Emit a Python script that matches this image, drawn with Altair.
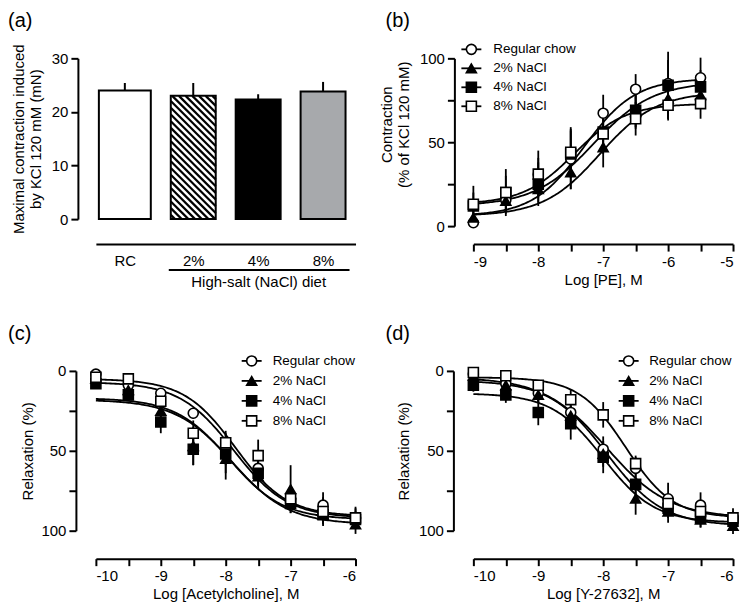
import altair as alt
import numpy as np
import pandas as pd

FONT = "Arial, Liberation Sans, sans-serif"
TICK_FS = 15
TITLE_FS = 15
LEG_FS = 13.5

# ---------------- Panel (a) data ----------------
A_GROUPS = ["RC", "2%", "4%", "8%"]
A_MEAN = [24.0, 23.0, 22.3, 23.8]
A_SEM = [1.4, 2.4, 1.0, 1.8]
A_FILL = ["white", "white", "black", "#a7a9ac"]
A_HATCHED = ["2%"]
A_GROUP_LABEL = "High-salt (NaCl) diet"
A_YTITLE = ["Maximal contraction induced", "by KCl 120 mM (mN)"]

# ---------------- Shared series ----------------
SERIES = ["Regular chow", "2% NaCl", "4% NaCl", "8% NaCl"]
SHAPES = ["circle", "triangle-up", "square", "square"]
FILLS = ["white", "black", "black", "white"]

# ---------------- Panel (b): PE ----------------
B_X = [-9, -8.5, -8, -7.5, -7, -6.5, -6, -5.5]
B_RC = [2, 15.4, 30.7, 40, 67.3, 81.6, 85, 88.4]
B_2 = [5, 15, 22, 32, 47, 68, 76, 78]
B_4 = [12, 20, 25, 43, 56, 69, 84, 83]
B_8 = [13, 20, 31, 44, 55, 64, 72, 73]
B_RC_SEM = [3, 8, 10, 18, 11, 9, 14, 12]
B_2_SEM = [4, 6, 8, 10, 12, 10, 12, 8]
B_4_SEM = [8, 10, 13, 14, 10, 10, 20, 10]
B_8_SEM = [11, 14, 14, 15, 12, 10, 9, 9]
B_BOTTOM = [6, 6, 12, 13]
B_TOP = [88, 80, 86, 73]
B_EC50 = [-7.3, -7.05, -7.15, -7.45]
B_HILL = [1.1, 1.0, 0.95, 1.1]

# ---------------- Panel (c): Acetylcholine ----------------
C_X = [-10, -9.5, -9, -8.5, -8, -7.5, -7, -6.5, -6]
C_RC = [2, 9, 14, 26.5, 49, 61, 80, 84, 92]
C_2 = [5, 12, 25, 47, 55, 66, 74, 90, 96]
C_4 = [8, 15, 32, 49, 52, 64, 83, 90, 93]
C_8 = [4, 5, 19, 39, 45, 53, 80, 88, 92]
C_RC_SEM = [2, 3, 3, 3.5, 10, 10, 5, 8, 7]
C_2_SEM = [3, 4, 5, 12, 13, 8, 15, 6, 6]
C_4_SEM = [3, 4, 7, 10, 12, 8, 6, 6, 5]
C_8_SEM = [2, 3, 4, 8, 7.5, 10, 6, 9, 6]
C_BOTTOM = [7, 18, 17, 5]
C_TOP = [92, 96, 93, 91]
C_EC50 = [-7.88, -7.9, -7.95, -7.85]
C_HILL = [1.05, 1.0, 1.05, 1.1]

# ---------------- Panel (d): Y-27632 ----------------
D_X = [-10, -9.5, -9, -8.5, -8, -7.5, -7, -6.5, -6]
D_RC = [2, 8, 14, 26, 49, 61, 80, 84, 92]
D_2 = [3, 9, 15, 28, 52, 80, 88, 93, 97]
D_4 = [9, 15, 26, 33, 54, 71, 86, 92, 94]
D_8 = [1, 3, 9, 18, 27.5, 58, 83, 88, 92]
D_RC_SEM = [2, 3, 6, 5, 8, 7, 10, 8, 6]
D_2_SEM = [3, 4, 5, 6, 8, 10, 7, 5, 5]
D_4_SEM = [4, 5, 8, 10, 10, 8, 6, 6, 4]
D_8_SEM = [2, 3, 3, 6, 8, 5, 6, 6, 4]
D_BOTTOM = [4, 6, 14, 4]
D_TOP = [92, 97, 95, 92]
D_EC50 = [-7.95, -7.95, -8.0, -7.65]
D_HILL = [0.9, 1.0, 1.1, 1.2]

# ---------------- layout constants ----------------
W = 260
H_A = 161
H_B = 168
H_CD = 160
LINE_W = 1.8
PT_SIZE = 100


def panel_label(text):
    return alt.Chart(pd.DataFrame({"t": [text]})).mark_text(
        align="left", baseline="top", fontSize=20, font=FONT, color="black"
    ).encode(x=alt.value(-88), y=alt.value(-47), text="t:N")


# ================= Panel (a) =================
A_DOM = [-0.5, 3.5]
PX = W / (A_DOM[1] - A_DOM[0])
PY = H_A / 30.0
BAR_W_PX = [52, 45, 45, 45]
rows = []
for i, (g, m, e) in enumerate(zip(A_GROUPS, A_MEAN, A_SEM)):
    right = i + 22.5 / PX
    left = right - BAR_W_PX[i] / PX
    rows.append({"group": g, "left": left, "right": right, "center": (left + right) / 2,
                 "base": 0.0, "mean": m, "top": m + e})
a_df = pd.DataFrame(rows)

# hatch segments (45 degree "\" lines) clipped to hatched bars
hatch = []
PITCH = 6.7
for r in rows:
    if r["group"] not in A_HATCHED:
        continue
    wp = (r["right"] - r["left"]) * PX
    hp = r["mean"] * PY
    k = -wp + PITCH / 2
    while k < hp:
        u0 = max(0.0, -k)
        u1 = min(wp, hp - k)
        if u1 > u0:
            hatch.append({"hx": r["left"] + u0 / PX, "hy": r["mean"] - (u0 + k) / PY,
                          "hx2": r["left"] + u1 / PX, "hy2": r["mean"] - (u1 + k) / PY})
        k += PITCH
hatch_df = pd.DataFrame(hatch)

a_xscale = alt.Scale(domain=A_DOM, nice=False, zero=False, padding=0)
a_yscale = alt.Scale(domain=[0, 30], nice=False, zero=False, padding=0)
labels_js = "[" + ",".join("'%s'" % g for g in A_GROUPS) + "][round(datum.value)]"
a_xaxis = alt.Axis(values=[r["center"] for r in rows], labelExpr=labels_js, offset=25,
                   ticks=False, tickSize=0, labelPadding=9, title=None)
a_yaxis = alt.Axis(values=[0, 10, 20, 30], offset=18, title=A_YTITLE, titlePadding=8)

bars_fill = alt.Chart(a_df).mark_rect(strokeWidth=0).encode(
    x=alt.X("left:Q", scale=a_xscale, axis=a_xaxis),
    x2="right:Q",
    y=alt.Y("mean:Q", scale=a_yscale, axis=a_yaxis),
    y2="base:Q",
    fill=alt.Fill("group:N", scale=alt.Scale(domain=A_GROUPS, range=A_FILL), legend=None),
)
hatch_lines = alt.Chart(hatch_df).mark_rule(color="black", strokeWidth=2.2).encode(
    x=alt.X("hx:Q", scale=a_xscale, axis=a_xaxis),
    x2="hx2:Q",
    y=alt.Y("hy:Q", scale=a_yscale, axis=a_yaxis),
    y2="hy2:Q",
)
bars_outline = alt.Chart(a_df).mark_rect(fillOpacity=0, stroke="black", strokeWidth=2).encode(
    x=alt.X("left:Q", scale=a_xscale, axis=a_xaxis),
    x2="right:Q",
    y=alt.Y("mean:Q", scale=a_yscale, axis=a_yaxis),
    y2="base:Q",
)
a_err = alt.Chart(a_df).mark_rule(color="black", strokeWidth=2).encode(
    x=alt.X("center:Q", scale=a_xscale, axis=a_xaxis),
    y=alt.Y("mean:Q", scale=a_yscale, axis=a_yaxis),
    y2="top:Q",
)
salt_rule = alt.Chart(pd.DataFrame({"t": [A_GROUP_LABEL]})).mark_rule(
    color="black", strokeWidth=2
).encode(x=alt.value(73), x2=alt.value(254), y=alt.value(H_A + 51))
salt_text = alt.Chart(pd.DataFrame({"t": [A_GROUP_LABEL]})).mark_text(
    fontSize=TICK_FS, font=FONT, color="black", baseline="middle", align="center"
).encode(x=alt.value(163), y=alt.value(H_A + 63), text="t:N")

panel_a = alt.layer(bars_fill, hatch_lines, bars_outline, a_err, salt_rule, salt_text,
                    panel_label("(a)")).properties(width=W, height=H_A)


# ================= curve panels =================
def points_df(xs, means, sems):
    out = []
    for s, m, e in zip(SERIES, means, sems):
        for x, y, err in zip(xs, m, e):
            out.append({"series": s, "x": x, "y": y, "lo": y - err, "hi": y + err})
    return pd.DataFrame(out)


def curves_df(xs, bottom, top, ec50, hill):
    grid = np.linspace(min(xs), max(xs), 160)
    out = []
    for s, b, t, e, h in zip(SERIES, bottom, top, ec50, hill):
        for g in grid:
            out.append({"series": s, "x": float(g), "y": b + (t - b) / (1 + 10 ** ((e - g) * h))})
    return pd.DataFrame(out)


def legend_layers(cx, tx, ys):
    layers = []
    for i, s in enumerate(SERIES):
        d = pd.DataFrame({"s": [s]})
        layers.append(alt.Chart(d).mark_rule(color="black", strokeWidth=LINE_W).encode(
            x=alt.value(cx - 10), x2=alt.value(cx + 10), y=alt.value(ys[i])))
        layers.append(alt.Chart(d).mark_point(size=PT_SIZE, strokeWidth=1.6, opacity=1,
                                              stroke="black").encode(
            x=alt.value(cx), y=alt.value(ys[i]), shape=alt.value(SHAPES[i]),
            fill=alt.value(FILLS[i])))
        layers.append(alt.Chart(d).mark_text(align="left", baseline="middle", fontSize=LEG_FS,
                                             font=FONT, color="black").encode(
            x=alt.value(tx), y=alt.value(ys[i]), text="s:N"))
    return layers


def curve_panel(label, xs, means, sems, fit, xdom, xtitle, ytitle, yreverse, height,
                yoffset, xoffset, leg_cx, leg_tx, leg_ys, ytitle_pad, ytitle_y=None):
    pts = points_df(xs, means, sems)
    cur = curves_df(xs, *fit)
    xscale = alt.Scale(domain=xdom, nice=False, zero=False, padding=0)
    yscale = alt.Scale(domain=[0, 100], nice=False, zero=False, reverse=yreverse, padding=0)
    xvals = [float(v) for v in np.arange(xdom[0], xdom[1] + 0.25, 0.5)]
    xaxis = alt.Axis(values=xvals, labelExpr="datum.value % 1 == 0 ? '' + datum.value : ''",
                     offset=xoffset, title=xtitle, titlePadding=3)
    ykw = dict(values=[0, 25, 50, 75, 100],
               labelExpr="datum.value % 50 == 0 ? '' + datum.value : ''",
               offset=yoffset, title=ytitle, titlePadding=ytitle_pad)
    if ytitle_y is not None:
        ykw["titleY"] = ytitle_y
    yaxis = alt.Axis(**ykw)

    def X(f):
        return alt.X(f, scale=xscale, axis=xaxis)

    def Y(f):
        return alt.Y(f, scale=yscale, axis=yaxis)

    lines = alt.Chart(cur).mark_line(color="black", strokeWidth=LINE_W).encode(
        x=X("x:Q"), y=Y("y:Q"), detail="series:N")
    ebars = alt.Chart(pts).mark_rule(color="black", strokeWidth=LINE_W).encode(
        x=X("x:Q"), y=Y("lo:Q"), y2="hi:Q")
    marks = alt.Chart(pts).mark_point(size=PT_SIZE, strokeWidth=1.6, opacity=1,
                                      stroke="black").encode(
        x=X("x:Q"), y=Y("y:Q"),
        shape=alt.Shape("series:N", scale=alt.Scale(domain=SERIES, range=SHAPES), legend=None),
        fill=alt.Fill("series:N", scale=alt.Scale(domain=SERIES, range=FILLS), legend=None),
    )
    return alt.layer(lines, ebars, marks, *legend_layers(leg_cx, leg_tx, leg_ys),
                     panel_label(label)).properties(width=W, height=height)


panel_b = curve_panel("(b)", B_X, [B_RC, B_2, B_4, B_8], [B_RC_SEM, B_2_SEM, B_4_SEM, B_8_SEM],
                      (B_BOTTOM, B_TOP, B_EC50, B_HILL), [-9, -5], "Log [PE], M",
                      ["Contraction", "(% of KCl 120 mM)"], False, H_B, 19, 18,
                      -2, 20, [-9, 10, 29, 48], 8, 66)
panel_c = curve_panel("(c)", C_X, [C_RC, C_2, C_4, C_8], [C_RC_SEM, C_2_SEM, C_4_SEM, C_8_SEM],
                      (C_BOTTOM, C_TOP, C_EC50, C_HILL), [-10, -6], "Log [Acetylcholine], M",
                      "Relaxation (%)", True, H_CD, 20, 28,
                      156, 177, [-10, 10, 30, 50], 5)
panel_d = curve_panel("(d)", D_X, [D_RC, D_2, D_4, D_8], [D_RC_SEM, D_2_SEM, D_4_SEM, D_8_SEM],
                      (D_BOTTOM, D_TOP, D_EC50, D_HILL), [-10, -6], "Log [Y-27632], M",
                      "Relaxation (%)", True, H_CD, 20, 28,
                      155.5, 176, [-10, 10, 30, 50], 7)

chart = alt.concat(panel_a, panel_b, panel_c, panel_d, columns=2,
                   spacing={"row": 145, "column": 118}, bounds="flush").resolve_scale(
    fill="independent", shape="independent"
).properties(
    padding={"left": 0, "top": 3, "right": 0, "bottom": 3},
    background="white",
).configure_view(stroke=None).configure_axis(
    grid=False, domainColor="black", domainWidth=2, tickColor="black", tickWidth=2,
    tickSize=7, labelFont=FONT, labelFontSize=TICK_FS, labelColor="black",
    titleFont=FONT, titleFontSize=TITLE_FS, titleFontWeight="normal", titleColor="black",
    labelPadding=3,
)

chart.save("out.html", embed_options={"renderer": "svg", "actions": False})
